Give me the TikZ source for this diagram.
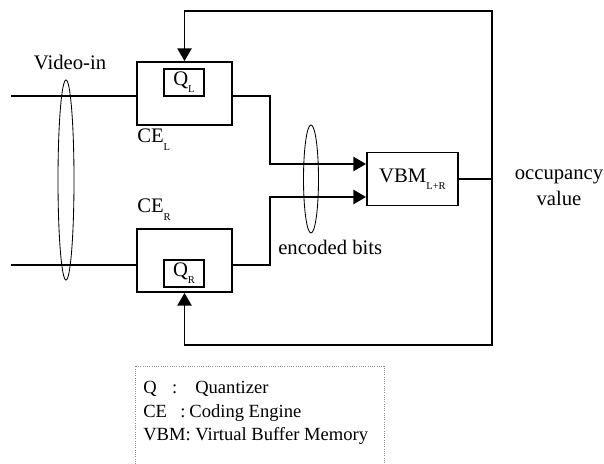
\documentclass[tikz,border=0pt]{standalone}
\usepackage{fontspec}
\setmainfont{Liberation Serif}
\usepackage{tikz}
\usetikzlibrary{arrows.meta, positioning, shapes.geometric}
\definecolor{legendgray}{HTML}{8C8C8C}
\newcommand{\lowsub}[1]{\raisebox{-5pt}{\fontsize{7.5}{8}\selectfont #1}}

\begin{document}
\begin{tikzpicture}[x=0.025cm, y=-0.025cm,
  wire/.style={line width=1.4pt},
  sig/.style={wire, -{Triangle[length=9pt, width=10pt]}},
  lbl/.style={font=\fontsize{14.7}{17}\selectfont, inner sep=0pt},
  block/.style={draw, line width=1.3pt, minimum width=2.375cm, minimum height=1.575cm, inner sep=0pt},
  quant/.style={draw, lbl, line width=1.1pt, minimum width=1cm, minimum height=0.675cm},
  bundle/.style={draw, ellipse, line width=0.6pt, inner sep=0pt},
  legtext/.style={font=\fontsize{13.2}{16}\selectfont, inner sep=0pt, anchor=base west}]
  \useasboundingbox (0,0) rectangle (604,464);

  % coding engines and buffer
  \node[block] (ceL) at (184.5,93.5) {};
  \node[quant] (qL) at (184,82.5) {\raisebox{2pt}{Q\lowsub{L}}};
  \node[block] (ceR) at (184.5,260.5) {};
  \node[quant] (qR) at (184,273.5) {\raisebox{2pt}{Q\lowsub{R}}};
  \node[block, lbl, minimum width=2.275cm, minimum height=1.325cm] (vbm) at (412.5,179) {VBM\lowsub{L+R}};

  % bundles
  \node[bundle, minimum width=0.4cm, minimum height=5cm] (vidbundle) at (66,180) {};
  \node[bundle, minimum width=0.375cm, minimum height=2.7cm] (encbundle) at (311,179) {};

  % labels
  \node[lbl, anchor=base] (vidlab) at (70,70) {Video-in};
  \node[lbl, anchor=base west] (ceLlab) at (137,143) {CE\lowsub{L}};
  \node[lbl, anchor=base west] (ceRlab) at (137,213) {CE\lowsub{R}};
  \node[lbl, anchor=base west] (enclab) at (278,255) {encoded bits};
  \node[lbl, anchor=base] (occlab) at (559,180) {occupancy};
  \node[lbl, anchor=base] (vallab) at (559,206) {value};

  % wiring
  \coordinate (inL) at (11,96);
  \coordinate (inR) at (11,265);
  \coordinate (busL) at (270,164);
  \coordinate (busR) at (270,197);
  \coordinate (topR) at (492,11);
  \coordinate (botR) at (492,345);
  \coordinate (tap) at (topR |- vbm.east);
  \draw[wire] (inL) -- (ceL.west |- inL);
  \draw[wire] (inR) -- (ceR.west |- inR);
  \draw[sig] (ceL.east |- inL) -| (busL) -- (vbm.west |- busL);
  \draw[sig] (ceR.east |- inR) -| (busR) -- (vbm.west |- busR);
  \draw[wire] (vbm.east) -- (tap);
  \draw[sig] (tap) -- (topR) -| (ceL.north);
  \draw[sig] (tap) -- (botR) -| (ceR.south);

  % legend
  \draw[legendgray, densely dotted, line width=0.6pt] (135,464) -- (135,366) -- (384,366) -- (384,464);
  \node[legtext] (legQ) at (143,393) {\makebox[20.6pt][l]{Q}\makebox[16.4pt][l]{:}Quantizer};
  \node[legtext] (legCE) at (143,417) {\makebox[26.3pt][l]{CE}\makebox[6.5pt][l]{:}Coding Engine};
  \node[legtext] (legVBM) at (143,440) {VBM: Virtual Buffer Memory};
\end{tikzpicture}
\end{document}
